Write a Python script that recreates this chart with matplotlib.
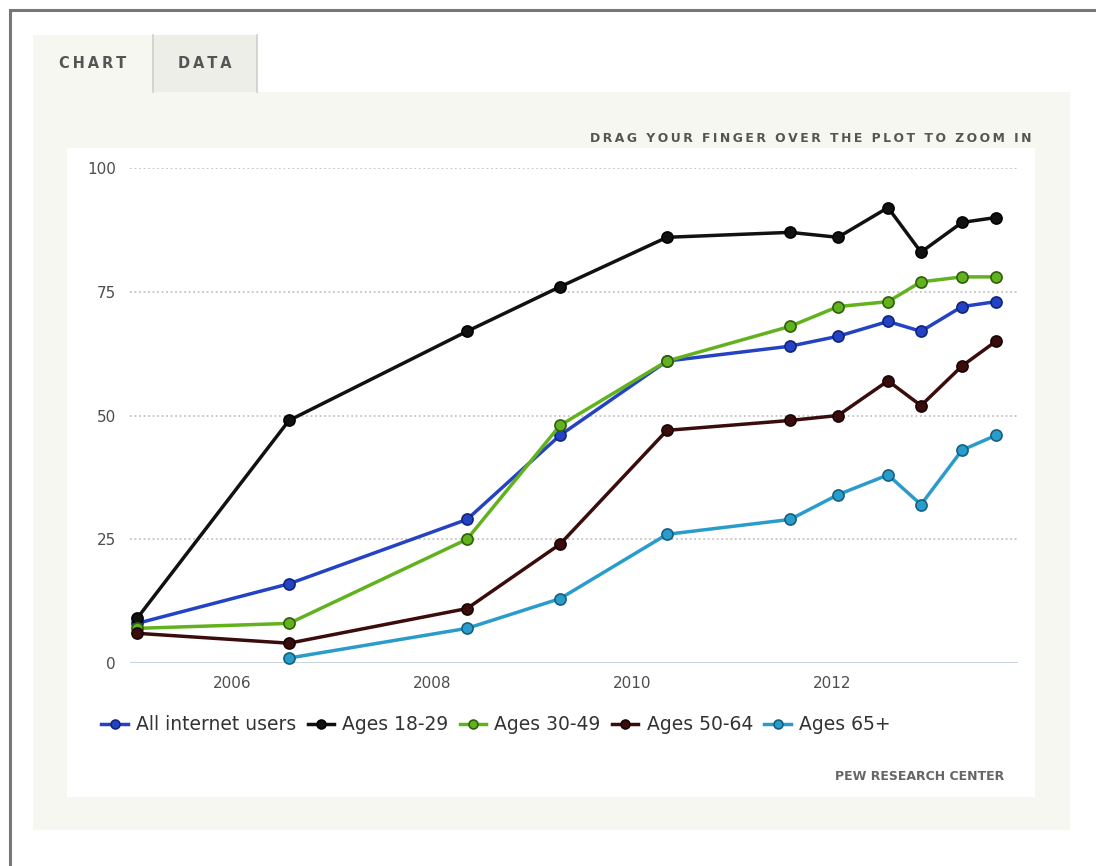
import matplotlib
matplotlib.use("Agg")
from matplotlib import pyplot as plt
from matplotlib.patches import Rectangle
from matplotlib.lines import Line2D

# survey dates (fractional years) and shares (%)
dates = [2005.05, 2006.57, 2008.35, 2009.28, 2010.35, 2011.58,
         2012.06, 2012.56, 2012.89, 2013.30, 2013.64]
all_users = [8, 16, 29, 46, 61, 64, 66, 69, 67, 72, 73]
ages_18_29 = [9, 49, 67, 76, 86, 87, 86, 92, 83, 89, 90]
ages_30_49 = [7, 8, 25, 48, 61, 68, 72, 73, 77, 78, 78]
ages_50_64 = [6, 4, 11, 24, 47, 49, 50, 57, 52, 60, 65]
dates_65 = dates[1:]
ages_65 = [1, 7, 13, 26, 29, 34, 38, 32, 43, 46]

series = [
    ("All internet users", dates, all_users, "#2443c4", "#10267a"),
    ("Ages 18-29", dates, ages_18_29, "#111111", "#000000"),
    ("Ages 30-49", dates, ages_30_49, "#62b21e", "#2f5e0c"),
    ("Ages 50-64", dates, ages_50_64, "#3b0c0c", "#1a0404"),
    ("Ages 65+", dates_65, ages_65, "#2a9ccc", "#14607f"),
]

W, H = 1096, 866
fig = plt.figure(figsize=(W / 100, H / 100), dpi=100)
fig.patch.set_facecolor("white")

def px_rect(x0, y0, x1, y1, **kw):
    # rectangle given in pixel coords from the top-left corner
    r = Rectangle((x0 / W, 1 - y1 / H), (x1 - x0) / W, (y1 - y0) / H,
                  transform=fig.transFigure, zorder=-10, **kw)
    fig.patches.append(r)

def spaced(s):
    return "\u2009".join(s)

# outer frame
px_rect(10, 10, W + 20, H + 20, facecolor="white", edgecolor="#777777", lw=2.2)
# panel + tabs
px_rect(33, 92, 1070, 830, facecolor="#f7f7f2", edgecolor="none")
px_rect(33, 35, 153, 92, facecolor="#f7f7f2", edgecolor="none")
px_rect(153, 35, 257, 92, facecolor="#eeeee9", edgecolor="none")
fig.add_artist(Line2D([153 / W, 153 / W], [1 - 35 / H, 1 - 92 / H], color="#cfcfca", lw=1.2, zorder=-5))
fig.add_artist(Line2D([257 / W, 257 / W], [1 - 35 / H, 1 - 92 / H], color="#cfcfca", lw=1.2, zorder=-5))
# white plot card
px_rect(67, 148, 1035, 797, facecolor="white", edgecolor="none")

fig.text(93 / W, 1 - 64 / H, spaced("CHART"), ha="center", va="center",
         fontsize=10.5, color="#555555", fontweight="bold")
fig.text(205 / W, 1 - 64 / H, spaced("DATA"), ha="center", va="center",
         fontsize=10.5, color="#555555", fontweight="bold")
fig.text(1031 / W, 1 - 139 / H, spaced("DRAG YOUR FINGER OVER THE PLOT TO ZOOM IN"),
         ha="right", va="center", fontsize=8.9, color="#555555", fontweight="bold")
fig.text(1004 / W, 1 - 776 / H, "PEW RESEARCH CENTER", ha="right", va="center",
         fontsize=9, color="#666666", fontweight="bold",
         fontfamily="Liberation Sans Narrow")

ax = fig.add_axes([130 / W, (H - 663) / H, 888 / W, 495 / H])
ax.set_facecolor("none")
ax.set_xlim(2004.98, 2013.86)
ax.set_ylim(0, 100)

for lab, xs, ys, col, edge in series:
    ax.plot(xs, ys, color=col, lw=2.5, marker="o", markersize=8,
            markerfacecolor=col, markeredgecolor=edge, markeredgewidth=1.2,
            label=lab, clip_on=False, zorder=3)

for v in [25, 50, 75, 100]:
    ax.axhline(v, color="#c4c4c4", lw=1.3, ls=(0, (1, 1.5)), zorder=1)
ax.axhline(0, color="#b9c6d6", lw=1.8, zorder=1)

ax.set_yticks([0, 25, 50, 75, 100])
ax.set_xticks([2006, 2008, 2010, 2012])
ax.tick_params(length=0, labelsize=11, labelcolor="#4d4d4d")
ax.tick_params(axis="y", pad=10)
ax.tick_params(axis="x", pad=9)
for s in ax.spines.values():
    s.set_visible(False)

leg = fig.legend(loc="center left", bbox_to_anchor=(92 / W, 1 - 725 / H),
                 ncol=5, frameon=False, fontsize=13.5, handlelength=1.4,
                 handletextpad=0.45, columnspacing=0.6, borderpad=0,
                 markerscale=0.8)
for t in leg.get_texts():
    t.set_color("#333333")

fig.savefig("out.png", dpi=100)
